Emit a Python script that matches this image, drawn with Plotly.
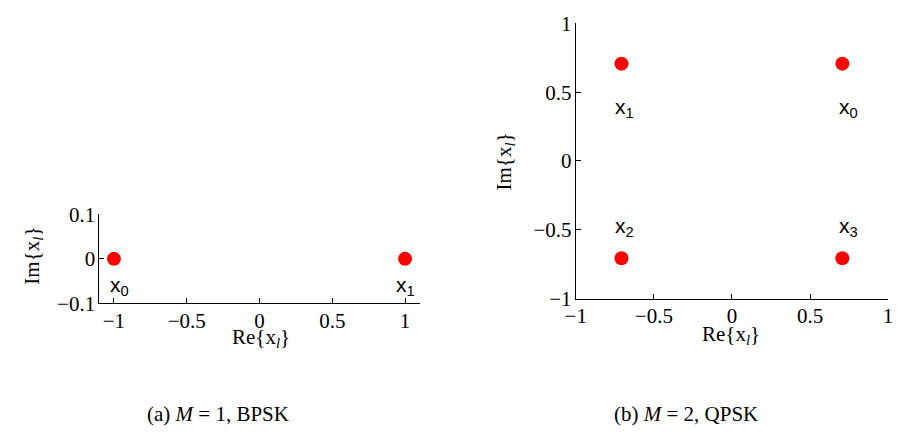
import plotly.graph_objects as go

# ---- data ----
bpsk_re = [-1.0, 1.0]
bpsk_im = [0.0, 0.0]
bpsk_labels = ["x<sub>0</sub>", "x<sub>1</sub>"]

qpsk_re = [0.7071, -0.7071, -0.7071, 0.7071]
qpsk_im = [0.7071, 0.7071, -0.7071, -0.7071]
qpsk_labels = ["x<sub>0</sub>", "x<sub>1</sub>", "x<sub>2</sub>", "x<sub>3</sub>"]

x_ticks = [-1, -0.5, 0, 0.5, 1]
x_ticktext = ["\u22121", "\u22120.5", "0", "0.5", "1"]
y1_ticks = [-0.1, 0, 0.1]
y1_ticktext = ["\u22120.1", "0", "0.1"]
y2_ticks = [-1, -0.5, 0, 0.5, 1]
y2_ticktext = ["\u22121", "\u22120.5", "0", "0.5", "1"]

captions = ["(a) <i>M</i> = 1, BPSK", "(b) <i>M</i> = 2, QPSK"]

SERIF = "Liberation Serif"
SANS = "Liberation Sans"
W, H = 898, 443

def dom_x(a, b):
    return [a / W, b / W]

def dom_y(top, bottom):
    return [(H - bottom) / H, (H - top) / H]

fig = go.Figure()
marker = dict(color="#ff0000", size=14, line=dict(width=0))
fig.add_trace(go.Scatter(x=bpsk_re, y=bpsk_im, mode="markers", marker=marker,
                         xaxis="x", yaxis="y", showlegend=False, cliponaxis=False))
fig.add_trace(go.Scatter(x=qpsk_re, y=qpsk_im, mode="markers", marker=marker,
                         xaxis="x2", yaxis="y2", showlegend=False, cliponaxis=False))

axis_common = dict(showgrid=False, zeroline=False, showline=True, linecolor="black",
                   linewidth=1, ticks="inside", ticklen=5, tickcolor="black",
                   ticklabeloverflow="allow",
                   tickfont=dict(family=SERIF, size=21, color="black"))

fig.update_layout(
    width=W, height=H, margin=dict(l=0, r=0, t=0, b=0),
    plot_bgcolor="white", paper_bgcolor="white",
    xaxis=dict(domain=dom_x(90, 416), range=[-1.1, 1.1], tickvals=x_ticks,
               ticktext=x_ticktext, anchor="y", ticklabelstandoff=-2, **axis_common),
    yaxis=dict(domain=dom_y(214, 308), range=[-0.1, 0.1], tickvals=y1_ticks,
               ticktext=y1_ticktext, anchor="x", ticklabelstandoff=-1, **axis_common),
    xaxis2=dict(domain=dom_x(575, 893), range=[-1, 1], tickvals=x_ticks,
                ticktext=x_ticktext, anchor="y2", ticklabelstandoff=-2, **axis_common),
    yaxis2=dict(domain=dom_y(12, 303), range=[-1, 1], tickvals=y2_ticks,
                ticktext=y2_ticktext, anchor="x2", ticklabelstandoff=-1, **axis_common),
)

lab_font = dict(family=SANS, size=21, color="black")
ann = []
# BPSK labels
shifts1 = [(-6, -12), (-11, -12)]
for xv, yv, t, (dx, dy) in zip(bpsk_re, bpsk_im, bpsk_labels, shifts1):
    ann.append(dict(x=xv, y=yv, xref="x", yref="y", text=t, showarrow=False,
                    xanchor="left", yanchor="top", xshift=dx, yshift=dy, font=lab_font))
# QPSK labels
shifts2 = [(-5, -29), (-8, -29), (-8, 46), (-5, 46)]
for xv, yv, t, (dx, dy) in zip(qpsk_re, qpsk_im, qpsk_labels, shifts2):
    ann.append(dict(x=xv, y=yv, xref="x2", yref="y2", text=t, showarrow=False,
                    xanchor="left", yanchor="top", xshift=dx, yshift=dy, font=lab_font))

title_font = dict(family=SERIF, size=21, color="black")
re_title = "Re{x<sub><i>l</i></sub>}"
im_title = "Im{x<sub><i>l</i></sub>}"
ann.append(dict(x=255 / W, y=(H - 345) / H, xref="paper", yref="paper", text=re_title,
                showarrow=False, xanchor="center", yanchor="middle", font=title_font))
ann.append(dict(x=733 / W, y=(H - 342) / H, xref="paper", yref="paper", text=re_title,
                showarrow=False, xanchor="center", yanchor="middle", font=title_font))
ann.append(dict(x=22 / W, y=(H - 258) / H, xref="paper", yref="paper", text=im_title,
                showarrow=False, textangle=-90, xanchor="center", yanchor="middle", font=title_font))
ann.append(dict(x=503 / W, y=(H - 158) / H, xref="paper", yref="paper", text=im_title,
                showarrow=False, textangle=-90, xanchor="center", yanchor="middle", font=title_font))
for cx, t in zip([211, 687], captions):
    ann.append(dict(x=cx / W, y=(H - 425) / H, xref="paper", yref="paper", text=t,
                    showarrow=False, xanchor="center", yanchor="middle", font=title_font))

fig.update_layout(annotations=ann)
fig.write_html("out.html")
